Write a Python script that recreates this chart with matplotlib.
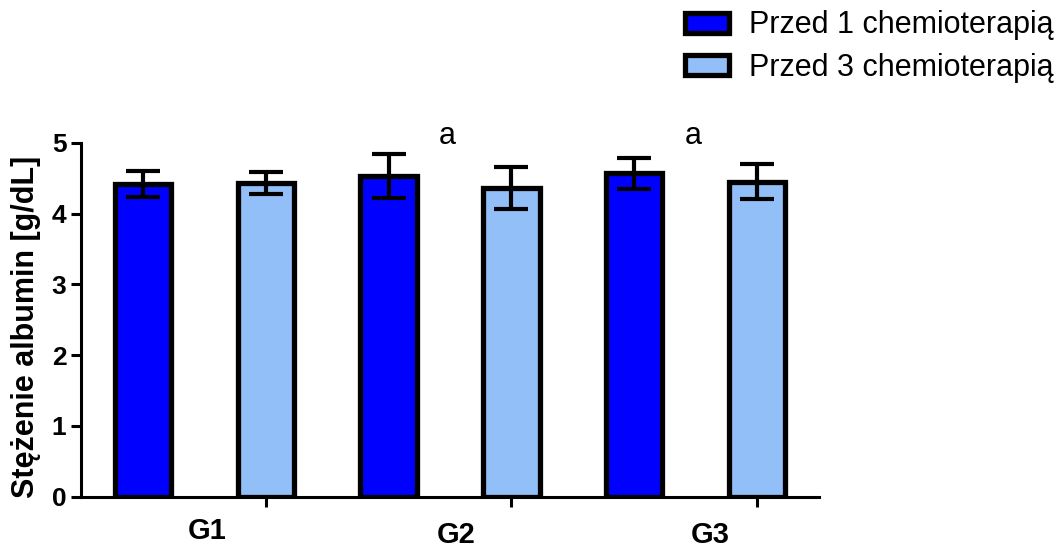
import matplotlib
matplotlib.use('Agg')
import matplotlib.pyplot as plt
import numpy as np

plt.rcParams['font.family'] = ['Liberation Sans', 'DejaVu Sans']

# Stężenie albumin w grupach, przed 1 i przed 3 chemioterapią
grupy = ['G1', 'G2', 'G3']
przed1 = [4.42, 4.53, 4.57]
przed1_err = [0.18, 0.31, 0.22]
przed3 = [4.43, 4.36, 4.45]
przed3_err = [0.15, 0.30, 0.25]
etykiety = ['Przed 1 chemioterapią', 'Przed 3 chemioterapią']
istotnosc = ['', 'a', 'a']

kolor1 = '#0000FF'
kolor3 = '#92BFF8'

fig = plt.figure(figsize=(10.64, 5.49), dpi=100)
ax = fig.add_axes([0.0761, 0.0953, 0.6936, 0.6447])

x = np.arange(len(grupy)) * 2
w = 0.46
b1 = ax.bar(x, przed1, w, color=kolor1, edgecolor='black', linewidth=3.8,
            label=etykiety[0], zorder=2)
b3 = ax.bar(x + 1, przed3, w, color=kolor3, edgecolor='black', linewidth=3.8,
            label=etykiety[1], zorder=2)
ax.errorbar(x, przed1, yerr=przed1_err, fmt='none', ecolor='black',
            elinewidth=3, capsize=12, capthick=3, zorder=3)
ax.errorbar(x + 1, przed3, yerr=przed3_err, fmt='none', ecolor='black',
            elinewidth=3, capsize=12, capthick=3, zorder=3)

# litery istotności nad grupami
for xi, s in zip(x, istotnosc):
    if s:
        ax.text(xi + 0.48, 5.09, s, fontsize=22, ha='center', va='center')

ax.set_xlim(-0.505, 5.505)
ax.set_ylim(0, 5)
ax.set_yticks([0, 1, 2, 3, 4, 5])
ax.set_xticks(x + 1)
ax.set_xticklabels([])

# podpisy grup
pozycje_x = [0.52, 2.55, 4.62]
pozycje_y = [-0.097, -0.108, -0.108]
for g, px, py in zip(grupy, pozycje_x, pozycje_y):
    ax.text(px, py, g, transform=ax.get_xaxis_transform(), fontsize=21,
            fontweight='bold', ha='center', va='center')

for s in ['top', 'right']:
    ax.spines[s].set_visible(False)
for s in ['left', 'bottom']:
    ax.spines[s].set_linewidth(2.2)
ax.tick_params(axis='both', direction='out', length=7, width=2.2)
ax.tick_params(axis='y', labelsize=19, pad=3.5)
for t in ax.get_yticklabels():
    t.set_fontweight('bold')

ax.set_ylabel('Stężenie albumin [g/dL]', fontsize=22, fontweight='bold')
ax.yaxis.set_label_coords(-0.054, 0.48)

fig.legend(handles=[b1, b3], labels=etykiety, loc='upper left',
           bbox_to_anchor=(685 / 1064, 0.981), frameon=False, fontsize=22,
           handlelength=1.45, handleheight=0.65, handletextpad=0.65,
           labelspacing=0.4, borderpad=0, borderaxespad=0)

fig.savefig('out.png', dpi=100)
